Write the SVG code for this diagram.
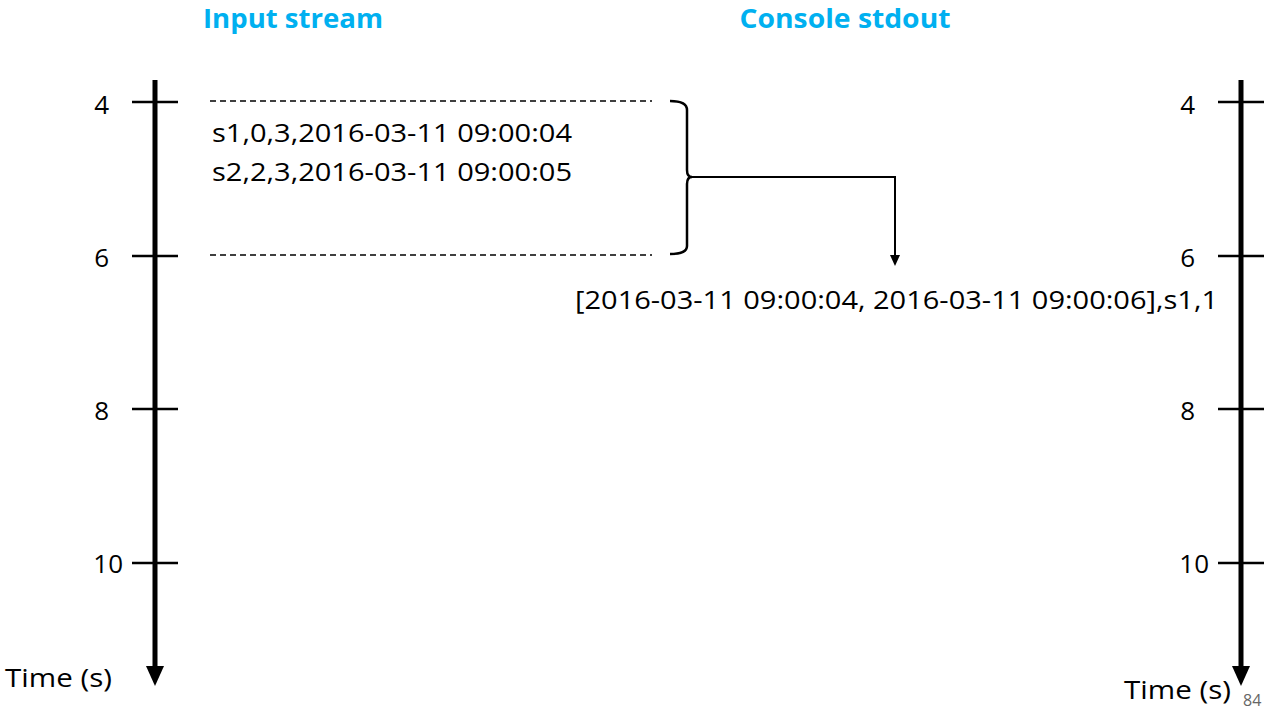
<svg xmlns="http://www.w3.org/2000/svg" width="1275" height="715" viewBox="0 0 1275 715">
<style>
.t{font-family:"Open Sans","Liberation Sans",sans-serif;font-size:25px;fill:#000}
.n{font-family:"Open Sans","Liberation Sans",sans-serif;font-size:26px;fill:#000}
.h{font-family:"Open Sans","Liberation Sans",sans-serif;font-size:27px;font-weight:bold;fill:#00B0F0}
.ax{stroke:#000;stroke-width:5;fill:none}
.tk{stroke:#000;stroke-width:2.5;fill:none}
.ds{stroke:#000;stroke-width:1.3;stroke-dasharray:6,4;fill:none}
</style>
<g id="titles">
<text class="h" x="293" y="28" text-anchor="middle" textLength="180" lengthAdjust="spacingAndGlyphs">Input stream</text>
<text class="h" x="845" y="28" text-anchor="middle" textLength="211" lengthAdjust="spacingAndGlyphs">Console stdout</text>
</g>
<g id="left-axis">
<line class="ax" x1="155" y1="80" x2="155" y2="668"/>
<path d="M146,666 L164,666 L155,686 Z" fill="#000"/>
<line class="tk" x1="132" y1="102" x2="178" y2="102"/>
<line class="tk" x1="132" y1="256" x2="178" y2="256"/>
<line class="tk" x1="132" y1="409" x2="178" y2="409"/>
<line class="tk" x1="132" y1="563" x2="178" y2="563"/>
<text class="n" x="109" y="114" text-anchor="end">4</text>
<text class="n" x="109" y="267" text-anchor="end">6</text>
<text class="n" x="109" y="420" text-anchor="end">8</text>
<text class="n" x="123" y="573" text-anchor="end">10</text>
<text class="n" x="5" y="687" textLength="107" lengthAdjust="spacingAndGlyphs">Time (s)</text>
</g>
<g id="right-axis">
<line class="ax" x1="1241" y1="80" x2="1241" y2="668"/>
<path d="M1232,666 L1250,666 L1241,686 Z" fill="#000"/>
<line class="tk" x1="1218" y1="102" x2="1264" y2="102"/>
<line class="tk" x1="1218" y1="256" x2="1264" y2="256"/>
<line class="tk" x1="1218" y1="409" x2="1264" y2="409"/>
<line class="tk" x1="1218" y1="563" x2="1264" y2="563"/>
<text class="n" x="1195" y="114" text-anchor="end">4</text>
<text class="n" x="1195" y="267" text-anchor="end">6</text>
<text class="n" x="1195" y="420" text-anchor="end">8</text>
<text class="n" x="1209" y="573" text-anchor="end">10</text>
<text class="n" x="1124" y="699" textLength="107" lengthAdjust="spacingAndGlyphs">Time (s)</text>
<text x="1243" y="706" style="font-family:'Open Sans','Liberation Sans',sans-serif;font-size:16px;fill:#666">84</text>
</g>
<g id="input-window">
<line class="ds" x1="210" y1="101" x2="652" y2="101"/>
<line class="ds" x1="210" y1="255" x2="652" y2="255"/>
<text class="t" x="212" y="142" textLength="360" lengthAdjust="spacingAndGlyphs">s1,0,3,2016-03-11 09:00:04</text>
<text class="t" x="212" y="181" textLength="360" lengthAdjust="spacingAndGlyphs">s2,2,3,2016-03-11 09:00:05</text>
</g>
<g id="output">
<text class="t" x="575" y="309" textLength="643" lengthAdjust="spacingAndGlyphs">[2016-03-11 09:00:04, 2016-03-11 09:00:06],s1,1</text>
</g>
<g id="connectors">
<path d="M670,101 Q687,101 687,110 L687,170 Q687,177 692,177 Q687,177 687,184 L687,246 Q687,254 670,254" fill="none" stroke="#000" stroke-width="2.5"/>
<path d="M692,177 L895,177 L895,256" fill="none" stroke="#000" stroke-width="2"/>
<path d="M890,255 L900,255 L895,266 Z" fill="#000"/>
</g>
</svg>
